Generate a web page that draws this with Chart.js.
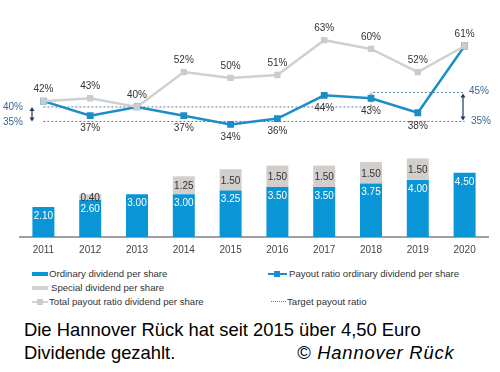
<!DOCTYPE html>
<html>
<head>
<meta charset="utf-8">
<script src="https://cdn.jsdelivr.net/npm/chart.js@4"></script>
<style>
  body { margin: 0; width: 500px; height: 372px; background: #fff; position: relative; overflow: hidden;
         font-family: "Liberation Sans", Arial, sans-serif; }
  #wrap { position: absolute; left: 0; top: 0; width: 500px; height: 258px; }
  .lg { position: absolute; font-size: 9.6px; color: #333; white-space: nowrap; line-height: 12px; }
  .sw { position: absolute; }
  .cap { position: absolute; left: 24px; font-size: 18.4px; color: #000; line-height: 22px; white-space: nowrap; }
</style>
</head>
<body>
<div id="wrap"><canvas id="grafico" width="500" height="258"></canvas></div>

<!-- legend -->
<div class="sw" style="left:32px;top:272px;width:16px;height:4px;background:#0a95d6"></div>
<div class="lg" style="left:49px;top:268px">Ordinary dividend per share</div>
<div class="sw" style="left:32px;top:286px;width:16px;height:4px;background:#d2d2d2"></div>
<div class="lg" style="left:51px;top:282px">Special dividend per share</div>
<div class="sw" style="left:32px;top:301px;width:16px;height:2px;background:#d0d0d0"></div>
<div class="sw" style="left:37px;top:299px;width:6px;height:6px;background:#cccccc"></div>
<div class="lg" style="left:49px;top:296px">Total payout ratio dividend per share</div>
<div class="sw" style="left:268px;top:273px;width:19px;height:2px;background:#1c8dc6"></div>
<div class="sw" style="left:274px;top:271px;width:6px;height:6px;background:#1c8dc6"></div>
<div class="lg" style="left:289px;top:268px">Payout ratio ordinary dividend per share</div>
<div class="sw" style="left:271px;top:301px;width:15px;height:0;border-top:1px dotted #5a7a9a"></div>
<div class="lg" style="left:287px;top:296px">Target payout ratio</div>

<!-- caption -->
<div class="cap" style="top:319px">Die Hannover Rück hat seit 2015 über 4,50 Euro</div>
<div class="cap" style="top:342px">Dividende gezahlt.</div>
<div class="cap" style="top:342px;left:297px;font-style:italic;letter-spacing:0.8px">© Hannover Rück</div>

<script>
const anos = ["2011", "2012", "2013", "2014", "2015", "2016", "2017", "2018", "2019", "2020"];
const dividendoOrdinario = [2.10, 2.60, 3.00, 3.00, 3.25, 3.50, 3.50, 3.75, 4.00, 4.50];
const dividendoEspecial = [null, 0.40, null, 1.25, 1.50, 1.50, 1.50, 1.50, 1.50, null];
const payoutTotal = [42, 43, 40, 52, 50, 51, 63, 60, 52, 61];
const payoutOrdinario = [42, 37, 40, 37, 34, 36, 44, 43, 38, 61];
const metaSuperior = [40, 40, 40, 40, 40, 40, 40, 40, 45, 45];
const metaInferior = [35, 35, 35, 35, 35, 35, 35, 35, 35, 35];

const azulBarra = '#0a95d6';
const azulLinha = '#1c8dc6';
const cinzaBarra = '#d2cecb';
const cinzaLinha = '#d0d0d0';
const corMeta = '#5a7a9a';

function seta(ctx, x, y1, y2) {
    ctx.save();
    ctx.strokeStyle = '#1f3a5f';
    ctx.fillStyle = '#1f3a5f';
    ctx.lineWidth = 1.2;
    ctx.beginPath();
    ctx.moveTo(x, y1 + 3);
    ctx.lineTo(x, y2 - 3);
    ctx.stroke();
    ctx.beginPath();
    ctx.moveTo(x, y1); ctx.lineTo(x - 2.5, y1 + 4); ctx.lineTo(x + 2.5, y1 + 4); ctx.closePath();
    ctx.fill();
    ctx.beginPath();
    ctx.moveTo(x, y2); ctx.lineTo(x - 2.5, y2 - 4); ctx.lineTo(x + 2.5, y2 - 4); ctx.closePath();
    ctx.fill();
    ctx.restore();
}

const rotulos = {
    id: 'rotulos',
    afterDatasetsDraw(chart) {
        const ctx = chart.ctx;
        ctx.save();
        ctx.textAlign = 'center';
        ctx.textBaseline = 'middle';
        ctx.font = '10px "Liberation Sans", Arial, sans-serif';

        // barras ordinarias
        chart.getDatasetMeta(2).data.forEach((el, i) => {
            ctx.fillStyle = '#ffffff';
            ctx.fillText(dividendoOrdinario[i].toFixed(2), el.x, el.y + 9);
        });
        // barras especiais
        chart.getDatasetMeta(3).data.forEach((el, i) => {
            if (dividendoEspecial[i] == null) return;
            ctx.fillStyle = '#333';
            ctx.fillText(dividendoEspecial[i].toFixed(2), el.x, (el.y + el.base) / 2 + 1);
        });
        // payout total
        chart.getDatasetMeta(0).data.forEach((el, i) => {
            ctx.fillStyle = '#333';
            ctx.fillText(payoutTotal[i] + '%', el.x, el.y - 12);
        });
        // payout ordinario
        chart.getDatasetMeta(1).data.forEach((el, i) => {
            if (i === 0 || i === 2 || i === 9) return;
            ctx.fillStyle = '#333';
            ctx.fillText(payoutOrdinario[i] + '%', el.x, el.y + 13);
        });

        // faixa alvo
        const y2 = chart.scales.y2;
        const p40 = y2.getPixelForValue(40), p35 = y2.getPixelForValue(35), p45 = y2.getPixelForValue(45);
        ctx.fillStyle = '#3c6591';
        ctx.textAlign = 'left';
        ctx.fillText('40%', 3, p40);
        ctx.fillText('35%', 3, p35 + 1);
        ctx.fillText('45%', 469, p45 - 1);
        ctx.fillText('35%', 471, p35);
        ctx.restore();
        seta(ctx, 32, p40, p35);
        seta(ctx, 463, p45 + 1, p35 - 1);
    }
};

const ctx = document.getElementById('grafico').getContext('2d');
new Chart(ctx, {
    type: 'bar',
    data: {
        labels: anos,
        datasets: [
            {
                type: 'line',
                label: 'Total payout ratio dividend per share',
                data: payoutTotal,
                yAxisID: 'y2',
                borderColor: cinzaLinha,
                backgroundColor: '#cccccc',
                borderWidth: 2.5,
                pointStyle: 'rect',
                pointRadius: 4.5,
                pointBorderWidth: 0,
                fill: false,
                order: 0
            },
            {
                type: 'line',
                label: 'Payout ratio ordinary dividend per share',
                data: payoutOrdinario,
                yAxisID: 'y2',
                borderColor: azulLinha,
                backgroundColor: azulLinha,
                borderWidth: 2.5,
                pointStyle: 'rect',
                pointRadius: 4.8,
                pointBorderWidth: 0,
                fill: false,
                order: 1
            },
            {
                label: 'Ordinary dividend per share',
                data: dividendoOrdinario,
                backgroundColor: azulBarra,
                yAxisID: 'y',
                barPercentage: 0.47,
                categoryPercentage: 1,
                order: 3
            },
            {
                label: 'Special dividend per share',
                data: dividendoEspecial,
                backgroundColor: cinzaBarra,
                yAxisID: 'y',
                barPercentage: 0.47,
                categoryPercentage: 1,
                order: 4
            },
            {
                type: 'line',
                label: 'Target payout ratio',
                data: metaSuperior,
                yAxisID: 'y2',
                borderColor: corMeta,
                borderWidth: 1,
                borderDash: [2, 2],
                stepped: 'after',
                pointRadius: 0,
                fill: false,
                order: 6
            },
            {
                type: 'line',
                label: 'Target payout ratio low',
                data: metaInferior,
                yAxisID: 'y2',
                borderColor: corMeta,
                borderWidth: 1,
                borderDash: [2, 2],
                pointRadius: 0,
                fill: false,
                order: 7
            }
        ]
    },
    options: {
        responsive: false,
        animation: false,
        devicePixelRatio: 1,
        layout: { padding: { top: 10, left: 20, right: 12, bottom: 0 } },
        plugins: { legend: { display: false }, tooltip: { enabled: false } },
        scales: {
            x: {
                stacked: true,
                grid: { display: false, drawTicks: false },
                border: { display: true, color: '#a0a0a0', width: 2 },
                ticks: { color: '#444', padding: 7, font: { size: 10, family: '"Liberation Sans", Arial, sans-serif' } },
                afterFit(scale) { scale.height = 21; }
            },
            y: { stacked: true, display: false, min: 0, max: 15.9 },
            y2: { stacked: false, display: false, min: -4.8, max: 73.4 }
        }
    },
    plugins: [rotulos]
});
</script>
</body>
</html>
